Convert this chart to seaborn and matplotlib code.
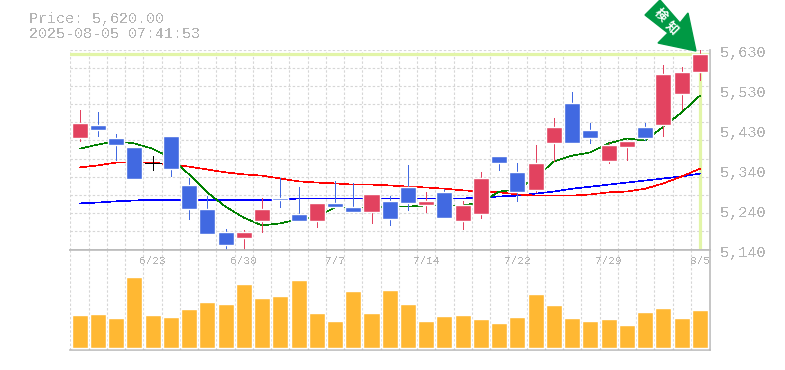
import numpy as np
import pandas as pd
import seaborn as sns
import matplotlib.pyplot as plt
from matplotlib.patches import Polygon

# daily candles, oldest first
open_p = [5412, 5444, 5412, 5390, 5351, 5419, 5299, 5240, 5182, 5167, 5211, 5267,
          5226, 5211, 5255, 5245, 5233, 5260, 5292, 5248, 5280, 5209, 5226, 5368,
          5329, 5287, 5400, 5500, 5432, 5356, 5390, 5441, 5444, 5520, 5574]
high_p = [5481, 5476, 5422, 5390, 5370, 5419, 5316, 5272, 5191, 5187, 5267, 5314,
          5294, 5255, 5309, 5304, 5275, 5272, 5348, 5282, 5289, 5260, 5329, 5370,
          5351, 5397, 5461, 5527, 5449, 5400, 5407, 5449, 5591, 5586, 5630]
low_p = [5407, 5419, 5360, 5312, 5334, 5319, 5214, 5179, 5140, 5140, 5182, 5245,
         5211, 5194, 5243, 5231, 5204, 5201, 5236, 5231, 5216, 5191, 5218, 5336,
         5258, 5282, 5356, 5400, 5400, 5351, 5360, 5409, 5417, 5485, 5556]
close_p = [5451, 5432, 5395, 5312, 5351, 5338, 5238, 5179, 5152, 5184, 5238, 5262,
           5211, 5253, 5243, 5231, 5275, 5214, 5255, 5260, 5216, 5250, 5316, 5353,
           5282, 5351, 5441, 5400, 5414, 5397, 5407, 5414, 5571, 5576, 5620]
volume = [33, 34, 30, 71, 33, 31, 39, 46, 44, 64, 50, 52, 68, 35, 27, 57, 35, 58,
          44, 27, 32, 33, 29, 25, 31, 54, 43, 30, 27, 29, 23, 36, 40, 30, 38]

ma_short = [5387, 5397, 5405, 5400, 5387, 5365, 5324, 5280, 5245, 5218, 5199, 5204,
            5214, 5221, 5243, 5243, 5243, 5245, 5245, 5248, 5248, 5248, 5255, 5282,
            5287, 5316, 5356, 5370, 5378, 5400, 5412, 5407, 5441, 5476, 5517]
ma_mid = [5341, 5346, 5353, 5353, 5353, 5348, 5343, 5336, 5329, 5324, 5321, 5314,
          5307, 5304, 5302, 5299, 5299, 5297, 5294, 5292, 5289, 5285, 5282, 5280,
          5275, 5272, 5272, 5272, 5275, 5280, 5282, 5289, 5302, 5319, 5338]
ma_long = [5253, 5255, 5258, 5260, 5262, 5262, 5262, 5262, 5262, 5262, 5262, 5262,
           5265, 5265, 5265, 5265, 5265, 5265, 5265, 5265, 5265, 5265, 5267, 5270,
           5272, 5277, 5282, 5289, 5294, 5299, 5304, 5309, 5314, 5319, 5326]

price_ticks = [5140, 5238, 5336, 5434, 5532, 5630]
price_labels = ['5,140', '5,240', '5,340', '5,430', '5,530', '5,630']
date_pos = [4, 9, 14, 19, 24, 29, 34]
date_labels = ['6/23', '6/30', '7/7', '7/14', '7/22', '7/29', '8/5']
last_price = 5620
price_text = 'Price: 5,620.00'
time_text = '2025-08-05 07:41:53'

RED = '#e2425f'
BLUE = '#4169e1'
GREY = '#b4b4b4'
GRID = '#d6d6d6'
HILITE = '#e2f5a8'

sns.set_style('white')
plt.rcParams['font.family'] = ['Liberation Mono', 'DejaVu Sans Mono']

W, H = 785, 370
fig = plt.figure(figsize=(W / 100, H / 100), dpi=100)
ax = fig.add_axes([69.5 / W, (H - 249.5) / H, 640.5 / W, 200 / H])
ax_vol = fig.add_axes([69.5 / W, (H - 349.5) / H, 640.5 / W, 100 / H])

df = pd.DataFrame({'i': np.arange(len(open_p)), 'open': open_p, 'high': high_p,
                   'low': low_p, 'close': close_p, 'volume': volume,
                   'short': ma_short, 'mid': ma_mid, 'long': ma_long})
xlim = (-0.55, 34.55)
step = 640 / (xlim[1] - xlim[0])  # pixels per candle
body_w = 16 / step
dash = dict(color=GRID, lw=0.8, dashes=(2.2, 1.8))

# price panel
ax.set_xlim(xlim)
ax.set_ylim(5140, 5630)
for y in np.linspace(5140, 5630, 12)[1:]:
    ax.axhline(y, zorder=1, **dash)
for x in df['i'][:-1] + 0.5:
    ax.axvline(x, zorder=1, **dash)
ax.axvline(-0.5, zorder=1, **dash)
ax.axhline(last_price, color=HILITE, lw=2.3, zorder=2)
ax.vlines(34, 5142, last_price, color=HILITE, lw=2.3, zorder=2)

for col, c in [('long', '#0000ff'), ('mid', '#ff0000'), ('short', '#008000')]:
    sns.lineplot(data=df, x='i', y=col, color=c, lw=0.45, ax=ax, zorder=3,
                 antialiased=False)

up = df[df['close'] > df['open']]
down = df[df['close'] < df['open']]
flat = df[df['close'] == df['open']]
wick = dict(lw=0.65, zorder=4, antialiased=False)
ax.vlines(up['i'], up['low'], up['high'], color=RED, **wick)
ax.vlines(down['i'], down['low'], down['high'], color=BLUE, **wick)
ax.vlines(flat['i'], flat['low'], flat['high'], color='black', **wick)
ax.hlines(flat['open'], flat['i'] - body_w / 2, flat['i'] + body_w / 2,
          color='black', **wick)
ax.bar(up['i'], up['close'] - up['open'], bottom=up['open'], width=body_w,
       color=RED, zorder=5)
ax.bar(down['i'], down['close'] - down['open'], bottom=down['open'], width=body_w,
       color=BLUE, zorder=5)

ax.set_xlabel('')
ax.set_ylabel('')
ax.set_xticks([])
ax.set_yticks([])
for tick, lab in zip(price_ticks, price_labels):
    ax.annotate(lab, xy=(1, tick), xycoords=('axes fraction', 'data'),
                xytext=(10, -3), textcoords='offset pixels', va='center',
                color=GREY, fontsize=11, antialiased=False)
ax.patch.set_alpha(0)
for s in ['top', 'left']:
    ax.spines[s].set_visible(False)
for s in ['bottom', 'right']:
    ax.spines[s].set_color('#bbbbbb')
    ax.spines[s].set_linewidth(1.2)

# volume panel
sns.barplot(data=df, x='i', y='volume', color='#ffb833', saturation=1,
            width=body_w, ax=ax_vol, zorder=3)
ax_vol.set_xlim(xlim)
ax_vol.set_ylim(-2, 98)
for x in df['i'][:-1] + 0.5:
    ax_vol.axvline(x, zorder=1, **dash)
ax_vol.axvline(-0.5, zorder=1, **dash)
ax_vol.set_xlabel('')
ax_vol.set_ylabel('')
ax_vol.set_yticks([])
ax_vol.set_xticks([])
ax_vol.spines['left'].set_visible(False)
for s in ['top', 'bottom', 'right']:
    ax_vol.spines[s].set_color('#bbbbbb')
    ax_vol.spines[s].set_linewidth(1.2)
for pos, lab in zip(date_pos, date_labels):
    ax_vol.text(pos, 86, lab, color=GREY, fontsize=8, ha='center', va='center',
                zorder=6, antialiased=False)

# header
fig.text(29 / W, (H - 18.5) / H, price_text, color=GREY, fontsize=10.8, va='center',
         antialiased=False)
fig.text(29 / W, (H - 33.5) / H, time_text, color=GREY, fontsize=10.8, va='center',
         antialiased=False)

# signal arrow
arrow = [(645, 15), (660, 0), (680, 23), (688, 13), (696, 51), (658, 43), (668, 33)]
fig.add_artist(Polygon([(x / W, (H - y) / H) for x, y in arrow], closed=True,
                       color='#009944', transform=fig.transFigure, zorder=8))
for (x, y), ch in zip([(660.5, 15.5), (672, 28.5)], ['検', '知']):
    fig.text(x / W, (H - y) / H, ch, color='white', fontsize=9, rotation=-45,
             ha='center', va='center', family='Noto Sans CJK JP', weight='bold',
             zorder=9)

fig.savefig('out.png', dpi=100)
